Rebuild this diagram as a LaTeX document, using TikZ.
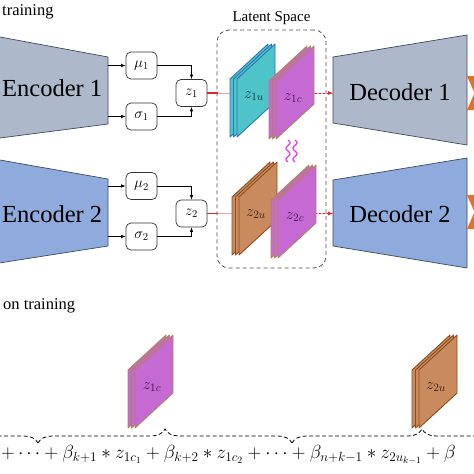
\RequirePackage{fix-cm}
\documentclass[tikz,border=0pt]{standalone}
\usepackage{fontspec}
\setmainfont{Liberation Serif}
\usepackage{tikz}
\usetikzlibrary{positioning,arrows.meta,decorations.pathreplacing}
\definecolor{encgray}{HTML}{ADB9CA}
\definecolor{encblue}{HTML}{8FAADC}
\definecolor{blockedge}{HTML}{3F4A5A}
\definecolor{zcyan}{HTML}{4EC3C8}
\definecolor{zcyanedge}{HTML}{2E75B6}
\definecolor{zcyantext}{HTML}{0E3440}
\definecolor{zpink}{HTML}{C66AD3}
\definecolor{zpinkedge}{HTML}{B4825A}
\definecolor{zpinktext}{HTML}{45105A}
\definecolor{zbrown}{HTML}{C98B5E}
\definecolor{zbrownedge}{HTML}{8E4C1C}
\definecolor{zbrowntext}{HTML}{3B200C}
\definecolor{squigcol}{HTML}{E23CF0}
\definecolor{decorange}{HTML}{E9711C}
\definecolor{linkred}{HTML}{E8262A}
\definecolor{linkpink}{HTML}{F3A5A5}
% stack of three sheets: name, left x, bottom y, fill, edge, text colour, label
\newcommand{\sheetstack}[7]{%
  \foreach \d in {7,3.5,0}
    \filldraw[fill=#4,draw=#5,line width=0.9pt,line join=round] ({#2-\d},#3) -- ++(0,-58) -- ++(38,-35) -- ++(0,58) -- cycle;
  \node[zlabel,text=#6] (#1) at ({#2+17},{#3-41}) {$#7$};}

\begin{document}
\begin{tikzpicture}[x=1pt,y=-1pt,
	block/.style={draw=blockedge,line width=0.7pt},
	param/.style={draw=black!80,rounded corners=5pt,fill=white,minimum width=31pt,minimum height=27pt,inner sep=0pt,line width=0.7pt,font=\fontsize{15}{15}\selectfont},
	big/.style={font=\fontsize{24.5}{24.5}\selectfont,inner sep=0pt},
	zlabel/.style={font=\fontsize{16}{16}\selectfont,inner sep=0pt},
	arr/.style={-{Latex[length=4.5pt,width=3.5pt]},line width=0.8pt},
	dbrace/.style={decorate,decoration={brace,amplitude=14pt},dash pattern=on 4pt off 2.5pt,line width=0.8pt}]
	\useasboundingbox (0,0) rectangle (474,474);
	\clip (0,0) rectangle (474,474);
	
	%TITLES
	\node[font=\fontsize{16.5}{16.5}\selectfont,anchor=west,inner sep=0pt] (stage1) at (2,12) {training};
	\node[font=\fontsize{16.5}{16.5}\selectfont,anchor=west,inner sep=0pt] (stage2) at (3,306) {on training};
	
	%ENCODERS
	\filldraw[block,fill=encgray] (-20,33.3) -- (108,57) -- (108,124) -- (-20,140.6) -- cycle;
	\node[big,anchor=west] (enc1) at (2,88) {Encoder 1};
	\filldraw[block,fill=encblue] (-20,156.5) -- (108,179) -- (108,246) -- (-20,266) -- cycle;
	\node[big,anchor=west] (enc2) at (2,214) {Encoder 2};
	\coordinate (enc1mu) at (108,65.5);
	\coordinate (enc1sig) at (108,116.5);
	\coordinate (enc2mu) at (108,186);
	\coordinate (enc2sig) at (108,236.5);
	
	%PARAMETERS
	\node[param] (mu1) at (141.5,65.5) {$\mu_1$};
	\node[param] (sig1) at (141.5,116.5) {$\sigma_1$};
	\node[param] (z1) at (191.5,93) {$z_1$};
	\node[param] (mu2) at (141.5,186) {$\mu_2$};
	\node[param] (sig2) at (141.5,236.5) {$\sigma_2$};
	\node[param] (z2) at (191.5,213.5) {$z_2$};
	%
	\draw[arr] (enc1mu) -- (mu1);
	\draw[arr] (enc1sig) -- (sig1);
	\draw[arr] (mu1) -| (z1);
	\draw[arr] (sig1) -| (z1);
	\draw[arr] (enc2mu) -- (mu2);
	\draw[arr] (enc2sig) -- (sig2);
	\draw[arr] (mu2) -| (z2);
	\draw[arr] (sig2) -| (z2);
	
	%LATENT SPACE
	\node[draw=black!70,dash pattern=on 4pt off 3pt,rounded corners=12pt,minimum width=109pt,minimum height=238pt,line width=0.8pt] (latent) at (271.5,149) {};
	\node[font=\fontsize{15}{15}\selectfont,inner sep=0pt,above=5pt of latent] (latentlbl) {Latent Space};
	%
	\coordinate (dec1in) at (333,93);
	\coordinate (lat1out) at (315,93);
	\coordinate (dec2in) at (333,213.5);
	\coordinate (lat2out) at (315,213.5);
	\draw[linkpink,line width=0.6pt] (z1) -- (dec1in);
	\draw[linkpink,line width=0.6pt] (z2) -- (dec2in);
	\draw[linkred,line width=1.2pt] (z1.east) -- ++(11,0);
	\draw[linkred,line width=1.2pt] (z2.east) -- ++(11,0);
	\draw[linkred,line width=0.8pt,dash pattern=on 2pt off 2pt,-{Latex[length=5pt,width=4pt]}] (lat1out) -- (dec1in);
	\draw[linkred,line width=0.8pt,dash pattern=on 2pt off 2pt,-{Latex[length=5pt,width=4pt]}] (lat2out) -- (dec2in);
	%
	\sheetstack{s1u}{237}{137}{zcyan}{zcyanedge}{zcyantext}{z_{1u}}
	\sheetstack{s1c}{276}{139}{zpink}{zpinkedge}{zpinktext}{z_{1c}}
	\sheetstack{s2u}{239}{255}{zbrown}{zbrownedge}{zbrowntext}{z_{2u}}
	\sheetstack{s2c}{278}{258}{zpink}{zpinkedge}{zpinktext}{z_{2c}}
	\foreach \sx in {288,295}
		\draw[squigcol,line width=1.3pt] plot[domain=0:22,samples=40,smooth] ({\sx+2*sin(\x*32.7)},{140+\x});
	
	%DECODERS
	\filldraw[block,fill=encgray] (333,57) -- (467,35) -- (467,145) -- (333,123) -- cycle;
	\node[big] (dec1) at (400,92) {Decoder 1};
	\filldraw[block,fill=encblue] (333,180) -- (467,158) -- (467,268) -- (333,246) -- cycle;
	\node[big] (dec2) at (400,214) {Decoder 2};
	\foreach \cy in {93,212} {
		\fill[decorange] (467,\cy-17) -- (482,\cy-17) -- (474.5,\cy) -- cycle;
		\fill[decorange] (467,\cy+17) -- (482,\cy+17) -- (474.5,\cy) -- cycle;
	}
	
	%SELECTED SHEETS
	\sheetstack{b1c}{135}{428}{zpink}{zpinkedge}{zpinktext}{z_{1c}}
	\sheetstack{b2u}{419}{428}{zbrown}{zbrownedge}{zbrowntext}{z_{2u}}
	\coordinate (br0) at (-216,443);
	\coordinate (br1) at (38,443);
	\coordinate (br2) at (292,443);
	\coordinate (br3) at (552,443);
	\draw[dbrace] (br0) -- (br1);
	\draw[dbrace] (br1) -- (br2);
	\draw[dbrace] (br2) -- (br3);
	\node[font=\fontsize{19}{19}\selectfont,anchor=west,inner sep=0pt] (formula) at (1,455) {$+\cdots+\beta_{k+1}*z_{1c_1}+\beta_{k+2}*z_{1c_2}+\cdots+\beta_{n+k-1}*z_{2u_{k-1}}+\beta$};
\end{tikzpicture}
\end{document}
